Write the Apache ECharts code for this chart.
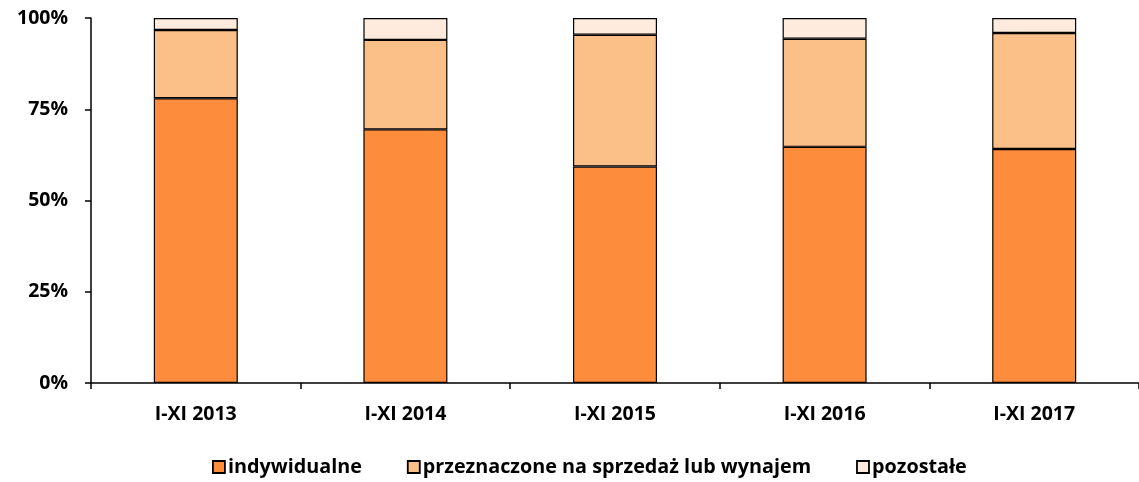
<!DOCTYPE html>
<html><head><meta charset="utf-8">
<script src="https://cdn.jsdelivr.net/npm/echarts@6/dist/echarts.min.js"></script>
<style>html,body{margin:0;padding:0;background:#fff}#c{width:1139px;height:482px}</style>
</head><body><div id="c"></div>
<script>
const categories = ['I-XI 2013','I-XI 2014','I-XI 2015','I-XI 2016','I-XI 2017'];
const indywidualne = [78.0, 69.5, 59.3, 64.7, 64.1];
const naSprzedaz = [18.7, 24.5, 36.1, 29.6, 31.8];
const pozostale = [3.3, 6.0, 4.6, 5.7, 4.1];
const seriesNames = ['indywidualne','przeznaczone na sprzedaż lub wynajem','pozostałe'];
const yTicks = [0, 25, 50, 75, 100];

const colors = ['#fd8d3c','#fbbf88','#feebdd'];
const font = '"Open Sans", "Noto Sans", sans-serif';
const chart = echarts.init(document.getElementById('c'));
const mk = (name, data, color) => ({
  name, type:'bar', stack:'s', data, barWidth:84,
  itemStyle:{color, borderColor:'#000', borderWidth:1.2},
  emphasis:{disabled:true}
});
chart.setOption({
  animation:false,
  grid:{left:91, top:18, width:1054, height:365},
  xAxis:{type:'category', data:categories,
    axisLine:{lineStyle:{color:'#000', width:1.5}},
    axisTick:{show:true, length:6, lineStyle:{color:'#000', width:1.5}},
    axisLabel:{color:'#000', fontWeight:'bold', fontSize:19.5, fontFamily:font, margin:21}
  },
  yAxis:{type:'value', min:0, max:100, interval:25,
    splitLine:{show:false},
    axisLine:{show:true, lineStyle:{color:'#000', width:1.5}},
    axisTick:{show:true, length:6, lineStyle:{color:'#000', width:1.5}},
    axisLabel:{color:'#000', fontWeight:'bold', fontSize:19.5, fontFamily:font, margin:23,
      formatter:v=> yTicks.includes(v) ? v+'%' : ''}
  },
  legend:{top:452, left:207, itemWidth:12, itemHeight:12, itemGap:45,
    icon:'rect',
    textStyle:{color:'#000', fontWeight:'bold', fontSize:19.8, fontFamily:font, padding:[0,0,0,-2]},
    itemStyle:{borderColor:'#000', borderWidth:1.8}
  },
  series:[mk(seriesNames[0], indywidualne, colors[0]), mk(seriesNames[1], naSprzedaz, colors[1]), mk(seriesNames[2], pozostale, colors[2])]
});
</script></body></html>
